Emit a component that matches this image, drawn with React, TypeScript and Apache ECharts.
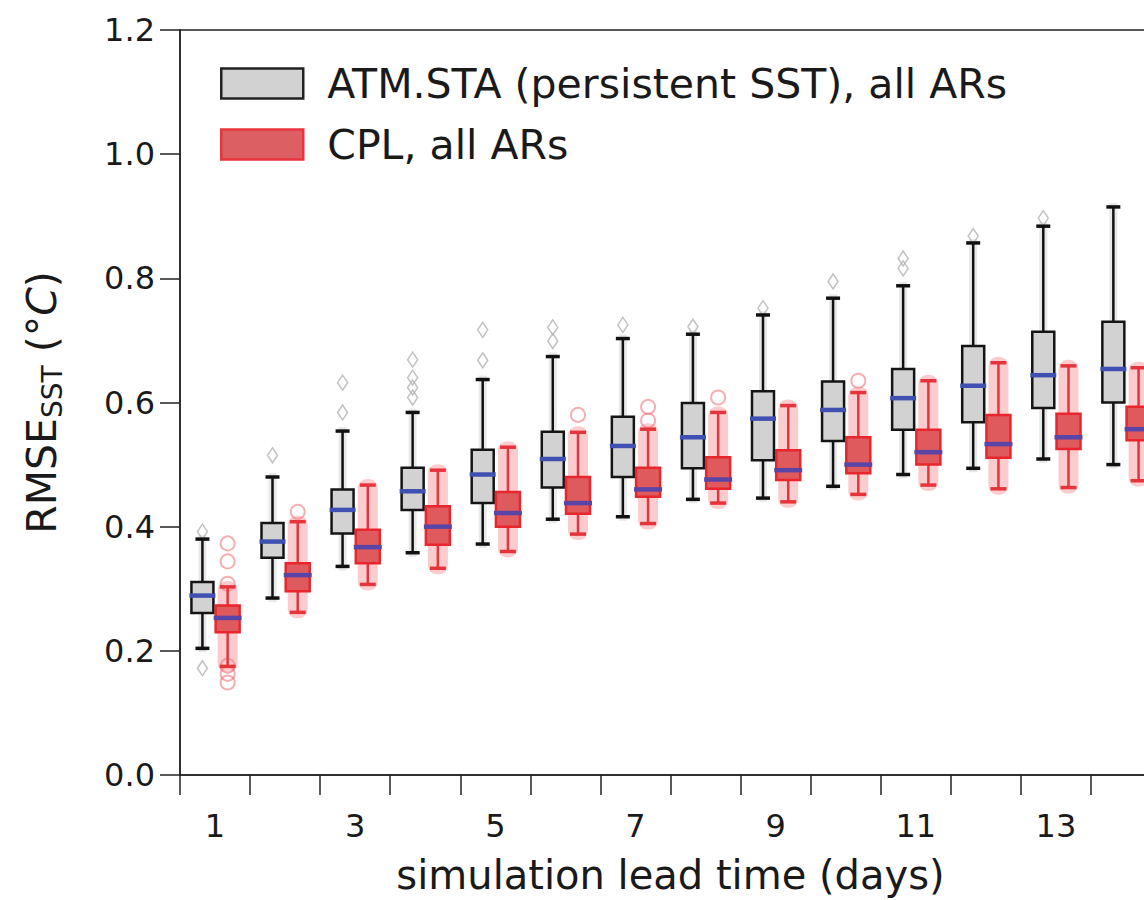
import React, { useEffect, useRef } from "react";
import * as echarts from "echarts";

const days = ["1", "2", "3", "4", "5", "6", "7", "8", "9", "10", "11", "12", "13", "14"];
const yTicks = [0, 0.2, 0.4, 0.6, 0.8, 1.0, 1.2];

const ATM_NAME = "ATM.STA (persistent SST), all ARs";
const CPL_NAME = "CPL, all ARs";

// [lower whisker, Q1, median, Q3, upper whisker] per lead day
const atmStats: number[][] = [
  [0.204, 0.261, 0.289, 0.311, 0.380],
  [0.285, 0.350, 0.376, 0.406, 0.480],
  [0.336, 0.389, 0.427, 0.460, 0.554],
  [0.358, 0.427, 0.457, 0.495, 0.584],
  [0.372, 0.438, 0.484, 0.524, 0.637],
  [0.412, 0.463, 0.509, 0.553, 0.674],
  [0.416, 0.480, 0.530, 0.577, 0.703],
  [0.444, 0.494, 0.544, 0.599, 0.710],
  [0.446, 0.507, 0.574, 0.618, 0.741],
  [0.465, 0.538, 0.588, 0.634, 0.768],
  [0.484, 0.556, 0.607, 0.654, 0.788],
  [0.494, 0.568, 0.627, 0.691, 0.857],
  [0.509, 0.591, 0.644, 0.714, 0.884],
  [0.500, 0.600, 0.654, 0.730, 0.915],
];

const cplStats: number[][] = [
  [0.175, 0.230, 0.253, 0.273, 0.303],
  [0.262, 0.296, 0.322, 0.341, 0.408],
  [0.307, 0.341, 0.367, 0.395, 0.467],
  [0.333, 0.371, 0.400, 0.433, 0.491],
  [0.360, 0.400, 0.422, 0.456, 0.528],
  [0.388, 0.421, 0.438, 0.480, 0.552],
  [0.405, 0.448, 0.460, 0.495, 0.557],
  [0.438, 0.461, 0.476, 0.512, 0.584],
  [0.440, 0.475, 0.491, 0.523, 0.595],
  [0.452, 0.486, 0.500, 0.544, 0.616],
  [0.467, 0.500, 0.520, 0.556, 0.635],
  [0.461, 0.511, 0.533, 0.580, 0.664],
  [0.463, 0.525, 0.544, 0.582, 0.659],
  [0.474, 0.539, 0.557, 0.593, 0.656],
];

// [day index, value]
const atmOutliers: number[][] = [
  [0, 0.172], [0, 0.392],
  [1, 0.515],
  [2, 0.632], [2, 0.584],
  [3, 0.669], [3, 0.640], [3, 0.624], [3, 0.608],
  [4, 0.717], [4, 0.668],
  [5, 0.721], [5, 0.699],
  [6, 0.725],
  [7, 0.722],
  [8, 0.752],
  [9, 0.795],
  [10, 0.832], [10, 0.816],
  [11, 0.868],
  [12, 0.897],
];

const cplOutliers: number[][] = [
  [0, 0.373], [0, 0.344], [0, 0.308], [0, 0.176], [0, 0.163], [0, 0.149],
  [1, 0.424],
  [5, 0.580],
  [6, 0.593], [6, 0.571],
  [7, 0.608],
  [9, 0.635],
];

const FONT = "DejaVu Sans";
const GRID_LEFT = 180;
const GRID_TOP = 30;
const GRID_W = 981;
const GRID_H = 757;
const OFF = 0.18; // fraction of band width between group center and box center
const BAND = GRID_W / days.length;

function renderBox(kind: "atm" | "cpl") {
  return (params: any, api: any) => {
    const i = api.value(0);
    const band = api.size([1, 0])[0];
    const base = api.coord([i, api.value(3)]);
    const cx = base[0] + (kind === "atm" ? -OFF : OFF) * band;
    const yLo = api.coord([i, api.value(1)])[1];
    const yQ1 = api.coord([i, api.value(2)])[1];
    const yMed = base[1];
    const yQ3 = api.coord([i, api.value(4)])[1];
    const yHi = api.coord([i, api.value(5)])[1];
    const children: any[] = [];
    if (kind === "atm") {
      children.push(
        { type: "rect", shape: { x: cx - 4, y: yHi - 4, width: 8, height: yLo - yHi + 8 }, style: { fill: "rgba(190,190,190,0.35)" } },
        { type: "line", shape: { x1: cx, y1: yHi, x2: cx, y2: yQ3 }, style: { stroke: "#111", lineWidth: 2.5 } },
        { type: "line", shape: { x1: cx, y1: yQ1, x2: cx, y2: yLo }, style: { stroke: "#111", lineWidth: 2.5 } },
        { type: "line", shape: { x1: cx - 7, y1: yHi, x2: cx + 7, y2: yHi }, style: { stroke: "#111", lineWidth: 3.5 } },
        { type: "line", shape: { x1: cx - 7, y1: yLo, x2: cx + 7, y2: yLo }, style: { stroke: "#111", lineWidth: 3.5 } },
        { type: "rect", shape: { x: cx - 11, y: yQ3, width: 22, height: yQ1 - yQ3 }, style: { fill: "#d2d2d2", stroke: "#151515", lineWidth: 2.5 } },
        { type: "line", shape: { x1: cx - 13, y1: yMed, x2: cx + 13, y2: yMed }, style: { stroke: "#3f4fb2", lineWidth: 4.5 } }
      );
    } else {
      children.push(
        { type: "rect", shape: { x: cx - 10, y: yHi - 6, width: 20, height: yLo - yHi + 12, r: 9 }, style: { fill: "rgba(244,120,124,0.38)" } },
        { type: "line", shape: { x1: cx, y1: yHi, x2: cx, y2: yQ3 }, style: { stroke: "#e5343c", lineWidth: 2.5 } },
        { type: "line", shape: { x1: cx, y1: yQ1, x2: cx, y2: yLo }, style: { stroke: "#e5343c", lineWidth: 2.5 } },
        { type: "line", shape: { x1: cx - 8, y1: yHi, x2: cx + 8, y2: yHi }, style: { stroke: "#e5343c", lineWidth: 3.5 } },
        { type: "line", shape: { x1: cx - 8, y1: yLo, x2: cx + 8, y2: yLo }, style: { stroke: "#e5343c", lineWidth: 3.5 } },
        { type: "rect", shape: { x: cx - 12, y: yQ3, width: 24, height: yQ1 - yQ3 }, style: { fill: "#df5a5d", stroke: "#e8262e", lineWidth: 2.5 } },
        { type: "line", shape: { x1: cx - 14, y1: yMed, x2: cx + 14, y2: yMed }, style: { stroke: "#5a45a6", lineWidth: 4.5 } }
      );
    }
    return { type: "group", children };
  };
}

export default function App() {
  const ref = useRef<HTMLDivElement>(null);

  useEffect(() => {
    if (!ref.current) return;
    const chart = echarts.init(ref.current, undefined, { renderer: "svg" });
    const atmData = atmStats.map((s, i) => [i, ...s]);
    const cplData = cplStats.map((s, i) => [i, ...s]);
    const textBase = { fontFamily: FONT, color: "#1a1a1a" };

    chart.setOption({
      animation: false,
      backgroundColor: "#ffffff",
      grid: {
        left: GRID_LEFT,
        top: GRID_TOP,
        width: GRID_W,
        height: GRID_H,
        show: true,
        borderColor: "#222",
        borderWidth: 1.5,
        backgroundColor: "transparent",
      },
      legend: {
        orient: "vertical",
        left: 215,
        top: 58,
        itemWidth: 82,
        itemHeight: 30,
        itemGap: 20,
        selectedMode: false,
        data: [
          { name: ATM_NAME, icon: "rect", itemStyle: { color: "#d2d2d2", borderColor: "#222", borderWidth: 2.5 } },
          { name: CPL_NAME, icon: "rect", itemStyle: { color: "#dc5f63", borderColor: "#e8343c", borderWidth: 2.5 } },
        ],
        formatter: (n: string) => `{t|${n}}`,
        textStyle: {
          ...textBase,
          fontSize: 41,
          rich: { t: { ...textBase, fontSize: 41, lineHeight: 40, padding: [0, 0, 0, 19] } },
        },
      },
      xAxis: {
        type: "category",
        data: days,
        boundaryGap: true,
        axisLine: { lineStyle: { color: "#222", width: 1.5 } },
        axisTick: { show: true, interval: 0, length: 20, inside: false, lineStyle: { color: "#222", width: 1.5 } },
        axisLabel: { interval: 1, ...textBase, fontSize: 32, margin: 35 },
        splitLine: { show: false },
        name: "simulation lead time (days)",
        nameLocation: "middle",
        nameGap: 80,
        nameTextStyle: { ...textBase, fontSize: 40 },
      },
      yAxis: {
        type: "value",
        min: yTicks[0],
        max: yTicks[yTicks.length - 1],
        interval: 0.2,
        axisLine: { show: true, lineStyle: { color: "#222", width: 1.5 } },
        axisTick: { show: true, length: 20, lineStyle: { color: "#222", width: 1.5 } },
        axisLabel: { ...textBase, fontSize: 32, margin: 25, formatter: (v: number) => v.toFixed(1) },
        splitLine: { show: false },
        name: "{a|RMSE}{b|SST}{a| (°}{c|C}{a|)}",
        nameLocation: "middle",
        nameRotate: 90,
        nameGap: 114,
        nameTextStyle: {
          ...textBase,
          fontSize: 41,
          rich: {
            a: { ...textBase, fontSize: 41, lineHeight: 48, verticalAlign: "middle" },
            b: { ...textBase, fontSize: 28, lineHeight: 48, verticalAlign: "bottom" },
            c: { ...textBase, fontSize: 41, lineHeight: 48, verticalAlign: "middle", fontStyle: "italic" },
          },
        },
      },
      series: [
        {
          name: "ATM outliers",
          type: "scatter",
          data: atmOutliers,
          symbol: "diamond",
          symbolSize: [10, 15],
          symbolOffset: [-OFF * BAND, 0],
          itemStyle: { color: "rgba(255,255,255,0)", borderColor: "#b4b4b4", borderWidth: 1.6 },
          z: 1,
        },
        {
          name: "CPL outliers",
          type: "scatter",
          data: cplOutliers,
          symbol: "circle",
          symbolSize: 14,
          symbolOffset: [OFF * BAND, 0],
          itemStyle: { color: "rgba(255,255,255,0)", borderColor: "rgba(236,100,108,0.65)", borderWidth: 2 },
          z: 1,
        },
        {
          name: ATM_NAME,
          type: "custom",
          renderItem: renderBox("atm"),
          data: atmData,
          encode: { x: 0, y: [1, 2, 3, 4, 5] },
          itemStyle: { color: "#d2d2d2", borderColor: "#222" },
          z: 3,
        },
        {
          name: CPL_NAME,
          type: "custom",
          renderItem: renderBox("cpl"),
          data: cplData,
          encode: { x: 0, y: [1, 2, 3, 4, 5] },
          itemStyle: { color: "#dc5f63", borderColor: "#e8343c" },
          z: 3,
        },
      ],
    });
    return () => chart.dispose();
  }, []);

  return (
    <div style={{ position: "absolute", left: 0, top: 0, width: 1144, height: 900, overflow: "hidden", background: "#fff" }}>
      <div ref={ref} style={{ width: 1200, height: 900 }} />
    </div>
  );
}
